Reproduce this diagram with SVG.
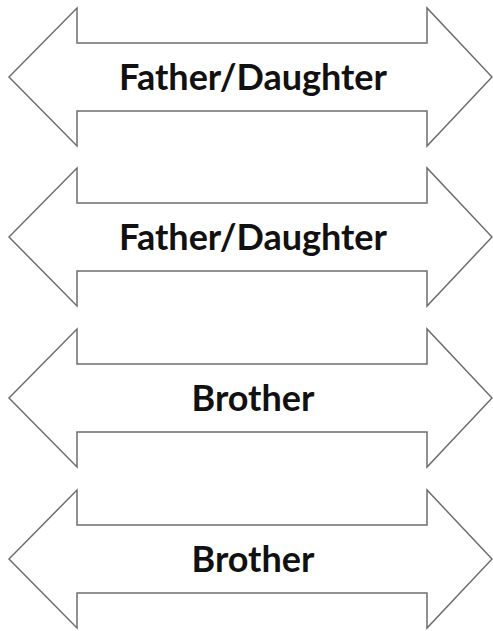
<svg xmlns="http://www.w3.org/2000/svg" width="493" height="631" viewBox="0 0 493 631">
<defs>
<style>
.arrow{fill:#ffffff;stroke:#6e6e6e;stroke-width:1.5;stroke-linejoin:miter}
.lbl{font-family:Lato,"Open Sans","Liberation Sans",sans-serif;font-weight:bold;font-size:36px;fill:#111111;text-anchor:middle}
</style>
<path id="dbl" d="M9,0 L77,-69 L77,-34 L427,-34 L427,-69 L492,0 L427,69 L427,34 L77,34 L77,69 Z"/>
</defs>
<rect width="493" height="631" fill="#ffffff"/>
<g id="arrow1"><use href="#dbl" class="arrow" transform="translate(0,77)"/><text class="lbl" x="253" y="90">Father/Daughter</text></g>
<g id="arrow2"><use href="#dbl" class="arrow" transform="translate(0,237)"/><text class="lbl" x="253" y="250">Father/Daughter</text></g>
<g id="arrow3"><use href="#dbl" class="arrow" transform="translate(0,398)"/><text class="lbl" x="253" y="411">Brother</text></g>
<g id="arrow4"><use href="#dbl" class="arrow" transform="translate(0,559)"/><text class="lbl" x="253" y="572">Brother</text></g>
<g id="connectors"></g>
</svg>
